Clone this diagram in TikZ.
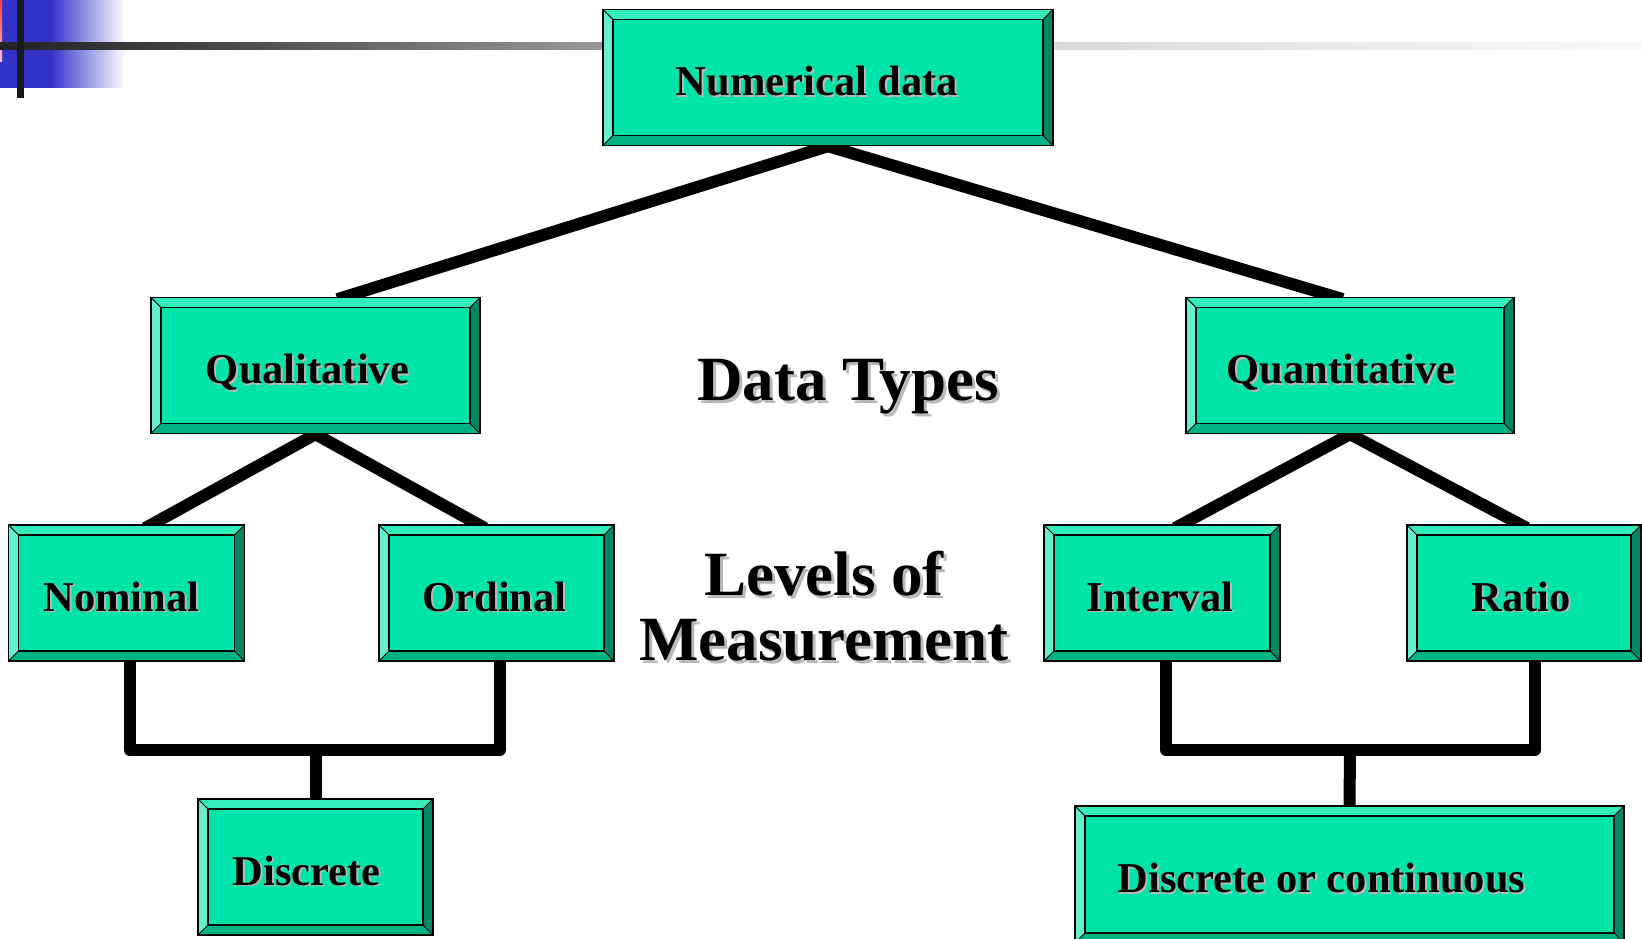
\documentclass[tikz,border=0pt]{standalone}
\usepackage{fontspec}
\setmainfont{Liberation Serif}
\usetikzlibrary{backgrounds}

\definecolor{boxfill}{RGB}{0,228,170}
\definecolor{bevtop}{RGB}{50,236,188}
\definecolor{bevleft}{RGB}{100,240,204}
\definecolor{bevright}{RGB}{0,136,98}
\definecolor{bevbot}{RGB}{0,180,134}
\definecolor{barblue}{RGB}{50,50,200}
\definecolor{txtshadow}{RGB}{185,185,185}

% text with a soft drop shadow
\newcommand\shd[2][1.8pt]{\rlap{\kern#1\raisebox{-#1}{\color{txtshadow}#2}}#2}

% raised edges of a box
\newcommand\bevelfaces{%
  \coordinate (bnw) at (path picture bounding box.north west);
  \coordinate (bne) at (path picture bounding box.north east);
  \coordinate (bse) at (path picture bounding box.south east);
  \coordinate (bsw) at (path picture bounding box.south west);
  \coordinate (inw) at ([shift={(10pt,-10pt)}]bnw);
  \coordinate (ine) at ([shift={(-10pt,-10pt)}]bne);
  \coordinate (ise) at ([shift={(-10pt,10pt)}]bse);
  \coordinate (isw) at ([shift={(10pt,10pt)}]bsw);
  \fill[bevtop] (bnw) -- (bne) -- (ine) -- (inw) -- cycle;
  \fill[bevleft] (bnw) -- (inw) -- (isw) -- (bsw) -- cycle;
  \fill[bevright] (bne) -- (bse) -- (ise) -- (ine) -- cycle;
  \fill[bevbot] (bsw) -- (isw) -- (ise) -- (bse) -- cycle;
  \draw[line width=1.3pt] (isw) rectangle (ine);
  \draw[line width=1pt] (bnw) -- (inw) (bne) -- (ine) (bse) -- (ise) (bsw) -- (isw);
}

\begin{document}
\begin{tikzpicture}[
    x=1pt, y=-1pt,
    box/.style={draw=black, line width=1.4pt, fill=boxfill, inner sep=0pt,
      font=\fontsize{42.5pt}{48pt}\selectfont\bfseries,
      text height=36pt, text depth=0pt, path picture={\bevelfaces}},
    nudge/.style={execute at begin node={\hspace*{-#1}\hspace*{-#1}}},
    link/.style={line width=12pt, line join=miter, shorten <=-8pt, shorten >=-8pt},
    bracket/.style={line width=12pt, line join=round, shorten <=-2pt, shorten >=-2pt},
    heading/.style={font=\fontsize{63pt}{65pt}\selectfont\bfseries, align=center, inner sep=0pt}
]
\useasboundingbox (0,0) rectangle (1642,939);

% corner mark and rule
\fill[barblue] (0,0) rectangle (50,88);
\shade[left color=barblue, right color=white] (50,0) rectangle (125,88);
\shade[top color=red!75, bottom color=red!25] (0,0) rectangle (2,62);
\shade[left color=black!87, right color=black!73] (0,43) rectangle (200,50);
\shade[left color=black!73, right color=black!40] (200,43) rectangle (600,50);
\shade[left color=black!40, right color=black!15] (600,43) rectangle (1050,50);
\shade[left color=black!15, right color=black!2] (1050,43) rectangle (1642,50);
\fill[black!90] (17,0) rectangle (24,98);

% Boxes
\node[box, minimum width=450pt, minimum height=136pt, nudge=11pt] (numdata) at (828,77.5) {\shd{Numerical data}};

\node[box, minimum width=329pt, minimum height=136pt, nudge=8pt] (qual) at (315.5,365.5) {\shd{Qualitative}};
\node[box, minimum width=328pt, minimum height=136pt, nudge=9pt] (quant) at (1350,365.5) {\shd{Quantitative}};

\node[box, minimum width=236pt, minimum height=136pt, nudge=5pt] (nominal) at (126.5,593) {\shd{Nominal}};
\node[box, minimum width=235pt, minimum height=136pt, nudge=2pt] (ordinal) at (496.5,593) {\shd{Ordinal}};
\node[box, minimum width=236pt, minimum height=136pt, nudge=2pt] (interval) at (1162,593) {\shd{Interval}};
\node[box, minimum width=234pt, minimum height=136pt, nudge=3pt] (ratio) at (1524,593) {\shd{Ratio}};

\node[box, minimum width=235pt, minimum height=136pt, nudge=9pt] (discrete) at (315.5,867) {\shd{Discrete}};
\node[box, minimum width=549pt, minimum height=137pt, nudge=28pt] (disccont) at (1349.5,874.5) {\shd{Discrete or continuous}};

% Headings
\node[heading, anchor=base] (types) at (848,400) {\shd[3pt]{Data Types}};
\node[heading, anchor=base] (levels) at (824,660) {\shd[3pt]{Levels of}\\\shd[3pt]{Measurement}};

% Joins
\coordinate (qualjoin) at (315.5,750);
\coordinate (quantjoin) at (1350,750);

\begin{scope}[on background layer]
\fill[white] (0,0) rectangle (1642,939);

% Tree lines
\draw[link] ([xshift=29.5pt]qual.north) -- (numdata.south) -- ([xshift=-15pt]quant.north);
\draw[link] ([xshift=25.5pt]nominal.north) -- (qual.south) -- ([xshift=-18.5pt]ordinal.north);
\draw[link] ([xshift=20pt]interval.north) -- (quant.south) -- ([xshift=-4pt]ratio.north);

% Brackets
\draw[bracket] ([xshift=3.5pt]nominal.south) |- (qualjoin) -| ([xshift=3.5pt]ordinal.south);
\draw[bracket, shorten <=0pt] (qualjoin) -- (discrete.north);
\draw[bracket] ([xshift=4pt]interval.south) |- (quantjoin) -| ([xshift=11pt]ratio.south);
\draw[bracket, shorten <=0pt] (quantjoin) -- (disccont.north);
\end{scope}

\end{tikzpicture}
\end{document}
